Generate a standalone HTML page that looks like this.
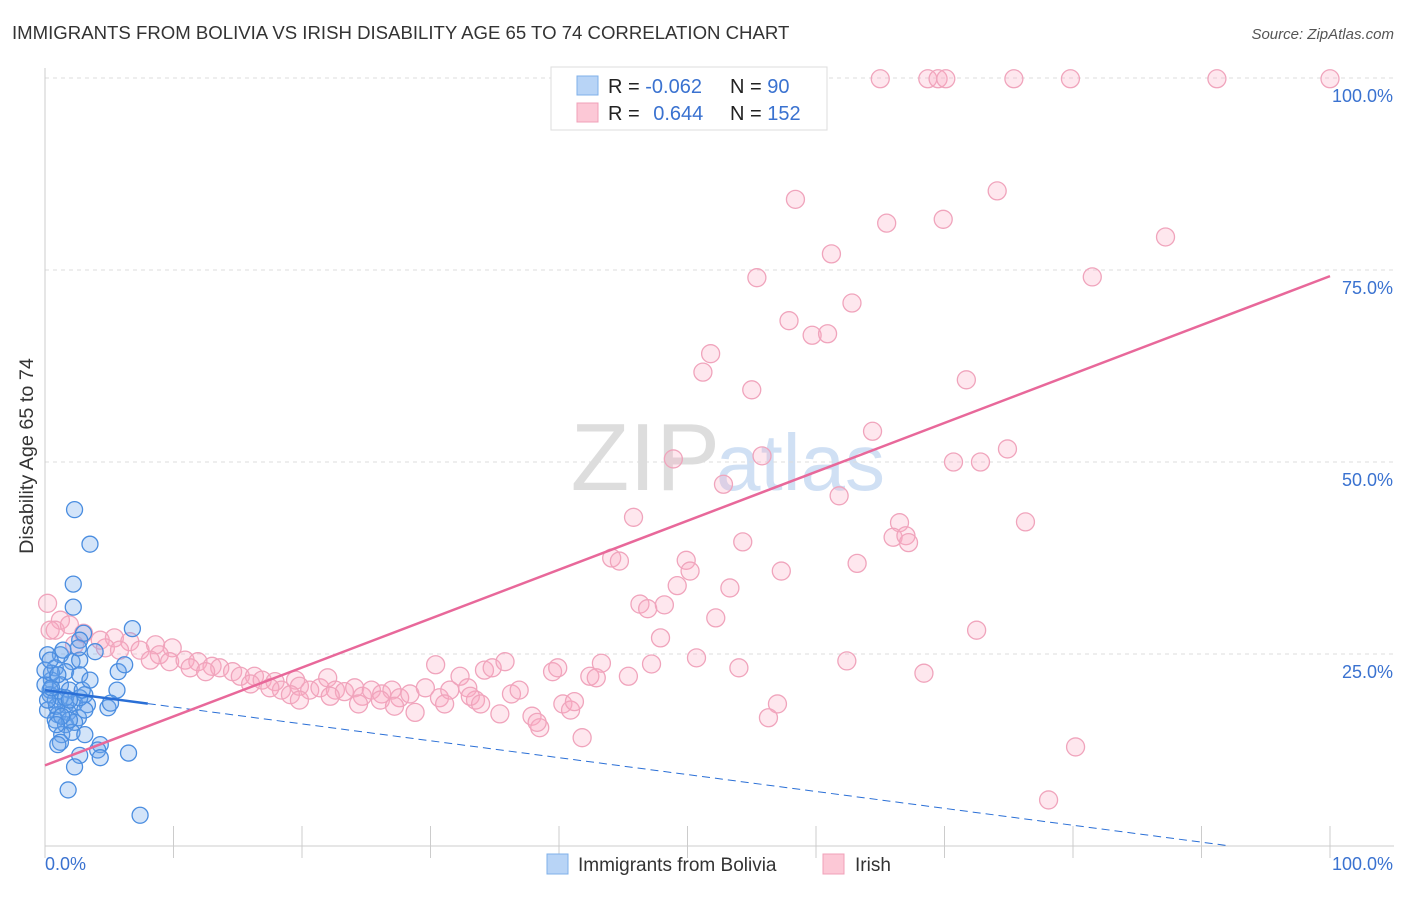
<!DOCTYPE html>
<html><head><meta charset="utf-8"><style>
body{margin:0;background:#fff;font-family:"Liberation Sans",sans-serif}
svg text{font-family:"Liberation Sans",sans-serif}
</style></head><body>
<svg id="chart" width="1406" height="892" xmlns="http://www.w3.org/2000/svg">
<text x="12" y="39" font-size="18.6" fill="#333">IMMIGRANTS FROM BOLIVIA VS IRISH DISABILITY AGE 65 TO 74 CORRELATION CHART</text>
<text x="1394" y="39" font-size="15" fill="#555" font-style="italic" text-anchor="end">Source: ZipAtlas.com</text>
<text x="720" y="490" font-size="96" fill="#ddd" text-anchor="end" font-family="Liberation Serif">ZIP</text>
<text x="716" y="490" font-size="80" fill="#d0e0f4">atlas</text>
<text x="33" y="456" font-size="19.8" fill="#333" transform="rotate(-90 33 456)" text-anchor="middle">Disability Age 65 to 74</text>
<g id="grid"></g><g id="axes"></g><g id="pts"></g><g id="trend"></g>
<g>
<rect x="551" y="67" width="276" height="63" fill="#fff" stroke="#ddd"/>
<rect x="577" y="76" width="21" height="19" fill="#b8d4f6" stroke="#7fb0ea"/>
<rect x="577" y="103" width="21" height="19" fill="#fcc8d6" stroke="#f0a0b8"/>
<text x="608" y="93" font-size="20" fill="#222">R = <tspan fill="#3a72d0">-0.062</tspan></text>
<text x="730" y="93" font-size="20" fill="#222">N = <tspan fill="#3a72d0"> 90</tspan></text>
<text x="608" y="120" font-size="20" fill="#222">R = <tspan fill="#3a72d0" dx="8">0.644</tspan></text>
<text x="730" y="120" font-size="20" fill="#222">N = <tspan fill="#3a72d0">152</tspan></text>
</g>
<g>
<rect x="547" y="854" width="21" height="20" fill="#b8d4f6" stroke="#7fb0ea"/>
<text x="578" y="871" font-size="19" fill="#333">Immigrants from Bolivia</text>
<rect x="823" y="854" width="21" height="20" fill="#fcc8d6" stroke="#f0a0b8"/>
<text x="855" y="871" font-size="19" fill="#333">Irish</text>
</g>
</svg>
<script>
const blueX=[2.3,3.5,2.2,2.2,6.8,3.0,2.7,1.2,2.1,2.7,3.9,0.2,0.8,1.6,2.7,5.7,6.2,0.5,1.2,1.9,3.1,5.6,0.4,0.8,1.6,2.3,3.3,4.9,5.1,0.2,1.0,1.8,2.6,3.1,0.8,1.6,2.3,1.3,2.1,3.1,1.2,1.0,4.3,4.1,2.7,6.5,4.3,2.3,1.8,7.4,0.4,0,0.5,1.2,1.9,0.9,1.6,1.3,0.2,2.7,0.9,0,0.4,1.4,2.6,1.9,2.9,3.5,0.5,1.0];
const blueY=[43.8,39.3,34.1,31.1,28.3,27.7,26.8,24.9,24.0,24.2,25.3,24.9,23.2,22.7,22.3,22.7,23.6,21.6,21.0,20.3,19.7,20.3,19.7,19.0,18.4,18.6,18.4,18.0,18.6,17.7,17.1,17.4,16.7,17.7,16.4,15.8,16.1,14.5,14.8,14.5,13.5,13.2,13.2,12.5,11.8,12.1,11.5,10.3,7.3,4.0,20.3,21.0,22.5,19.4,16.4,18.2,19.3,16.9,19.0,19.3,15.8,22.9,24.2,25.5,25.8,19.0,20.3,21.6,20.6,22.3];
const pinkX=[59.0,65.0,68.7,69.5,70.1,75.4,79.8,91.2,100,74.1,58.4,69.9,65.5,87.2,61.2,55.4,81.5,62.8,57.9,59.7,60.9,51.8,51.2,71.7,55.0,64.4,74.9,48.9,55.8,70.7,72.8,52.8,61.8,45.8,66.5,76.3,66.0,67.0,67.2,54.3,44.1,44.7,49.9,50.2,63.2,57.3,49.2,53.3,46.3,46.9,48.2,52.2,72.5,47.9,50.7,47.2,43.3,45.4,54.0,62.4,68.4,57.0,56.3,80.2,78.1,
0.2,1.2,0.8,1.9,3.0,4.3,5.4,6.6,4.7,7.4,8.6,9.9,8.9,9.7,10.9,11.9,13.0,13.6,14.6,15.2,16.3,16.9,17.9,18.4,19.5,19.8,20.6,21.4,22.0,22.6,23.3,24.1,24.7,25.4,26.2,27.0,27.6,28.4,28.8,29.6,30.4,30.7,31.5,32.3,32.9,33.5,34.2,34.8,35.4,35.8,36.3,36.9,37.9,38.5,39.5,39.9,40.3,40.9,41.2,41.8,42.4,42.9,2.3,5.8,8.2,11.3,12.5,16.0,17.5,19.1,19.8,22.2,24.4,26.1,27.2,31.1,33.1,33.9,38.3,0.4];
const pinkY=[99.9,99.9,99.9,99.9,99.9,99.9,99.9,99.9,99.9,85.3,84.2,81.6,81.1,79.3,77.1,74.0,74.1,70.7,68.4,66.5,66.7,64.1,61.7,60.7,59.4,54.0,51.7,50.4,50.8,50.0,50.0,47.1,45.6,42.8,42.1,42.2,40.2,40.4,39.5,39.6,37.5,37.1,37.2,35.8,36.8,35.8,33.9,33.6,31.5,30.9,31.4,29.7,28.1,27.1,24.5,23.7,23.8,22.1,23.2,24.1,22.5,18.5,16.7,12.9,6.0,
31.6,29.4,28.1,28.8,27.7,26.8,27.1,26.6,25.8,25.5,26.2,25.8,24.9,24.0,24.2,24.0,23.4,23.2,22.7,22.1,22.1,21.6,21.4,20.3,21.6,20.8,20.3,20.6,21.9,20.3,20.1,20.6,19.5,20.3,19.8,20.3,19.3,19.8,17.4,20.6,23.6,19.3,20.3,22.1,20.6,19.0,22.9,23.2,17.2,24.0,19.8,20.3,16.9,15.4,22.7,23.2,18.5,17.7,18.8,14.1,22.1,21.9,26.2,25.5,24.2,23.2,22.7,21.1,20.6,19.7,19.0,19.5,18.5,19.0,18.2,18.5,19.5,18.5,16.1,28.1];
const yTicks=[25,50,75,100];
const yTickLabels=["25.0%","50.0%","75.0%","100.0%"];
const xTicks=[0,10,20,30,40,50,60,70,80,90,100];
const blueTrend=[20.3,-0.22];
const pinkTrend=[10.5,0.637];
const sx=v=>45+v*12.85, sy=v=>846-v*7.68;
const NS="http://www.w3.org/2000/svg";
function mk(p,t,a){const e=document.createElementNS(NS,t);for(const k in a)e.setAttribute(k,a[k]);document.getElementById(p).appendChild(e);return e;}
yTicks.forEach((t,i)=>{
 const l=mk('grid','line',{x1:45,x2:1394,y1:sy(t),y2:sy(t),stroke:'#ddd','stroke-dasharray':'4,4'});
 
 
 const tx=mk('grid','text',{x:1393,y:sy(t)+24,'font-size':18,fill:'#3a72d0','text-anchor':'end'});
 tx.textContent=yTickLabels[i];
 
 
});
let ax=mk('axes','line',{x1:45,x2:1394,y1:846,y2:846,stroke:'#ccc'});


ax=mk('axes','line',{x1:45,x2:45,y1:68,y2:846,stroke:'#ccc'});


xTicks.forEach(t=>{const l=mk('axes','line',{x1:sx(t),x2:sx(t),y1:826,y2:858,stroke:'#ccc'});
 
 });
let t0=mk('axes','text',{x:45,y:870,'font-size':18,fill:'#3a72d0'});t0.textContent='0.0%';


let t1=mk('axes','text',{x:1393,y:870,'font-size':18,fill:'#3a72d0','text-anchor':'end'});t1.textContent='100.0%';


pinkX.forEach((x,i)=>{const c=mk('pts','circle',{cx:sx(x),cy:sy(pinkY[i]),r:9,fill:'rgba(250,170,195,0.28)',stroke:'#f0a4bc','stroke-width':1.3});
 
 });
blueX.forEach((x,i)=>{const c=mk('pts','circle',{cx:sx(x),cy:sy(blueY[i]),r:8,fill:'rgba(110,165,235,0.3)',stroke:'#4a8de0','stroke-width':1.3});
 
 });
const bl=v=>blueTrend[0]+blueTrend[1]*v, pl=v=>pinkTrend[0]+pinkTrend[1]*v;
let tr=mk('trend','line',{x1:sx(0),y1:sy(bl(0)),x2:sx(8),y2:sy(bl(8)),stroke:'#2a6fd6','stroke-width':2.5});


tr=mk('trend','line',{x1:sx(8),y1:sy(bl(8)),x2:sx(92),y2:sy(bl(92)),stroke:'#2a6fd6','stroke-width':1,'stroke-dasharray':'8,5'});


tr=mk('trend','line',{x1:sx(0),y1:sy(pl(0)),x2:sx(100),y2:sy(pl(100)),stroke:'#e8689a','stroke-width':2.5});


</script>
</body></html>
